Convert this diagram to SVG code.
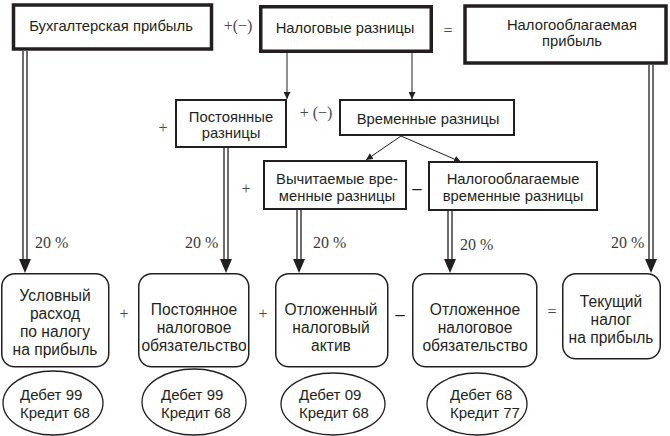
<svg xmlns="http://www.w3.org/2000/svg" width="670" height="436" viewBox="0 0 670 436">
<defs>
<style>
.bg{fill:#fff}
.thick{fill:#fff;stroke:#231f20;stroke-width:3.5}
.mid{fill:#fff;stroke:#231f20;stroke-width:2}
.rnd{fill:#fff;stroke:#231f20;stroke-width:1.5}
.ell{fill:#fff;stroke:#231f20;stroke-width:1.3}
.t{font-family:"Liberation Sans",Arial,sans-serif;font-size:14.8px;fill:#231f20;text-anchor:middle}
.b{font-family:"Liberation Sans",Arial,sans-serif;font-size:15.6px;fill:#231f20;text-anchor:middle}
.e{font-family:"Liberation Sans",Arial,sans-serif;font-size:15px;fill:#231f20}
.s{font-family:"Liberation Serif","Times New Roman",serif;font-size:16px;fill:#3a3a3a}
.sg{font-family:"Liberation Serif","Times New Roman",serif;font-size:16px;fill:#4a4a4a;text-anchor:middle}
.dl{stroke:#231f20;stroke-width:1.3;fill:none}
.sl{stroke:#231f20;stroke-width:1;fill:none}
.hd{fill:#231f20}
</style>
<marker id="ah" viewBox="0 0 10 10" refX="10" refY="5" markerWidth="7" markerHeight="7" markerUnits="userSpaceOnUse" orient="auto">
<path d="M0,0 L10,5 L0,10 z" fill="#231f20"/>
</marker>
</defs>
<rect class="bg" x="0" y="0" width="670" height="436"/>

<g id="connectors">
<path class="dl" d="M23,51 V262 M27,51 V262"/>
<polygon class="hd" points="19,259 31,259 25,273"/>
<path class="dl" d="M224,148 V262 M228,148 V262"/>
<polygon class="hd" points="220,259 232,259 226,273"/>
<path class="dl" d="M297,210 V262 M301,210 V262"/>
<polygon class="hd" points="293,259 305,259 299,273"/>
<path class="dl" d="M448,211 V262 M452,211 V262"/>
<polygon class="hd" points="444,259 456,259 450,273"/>
<path class="dl" d="M649,65 V262 M653,65 V262"/>
<polygon class="hd" points="645,259 657,259 651,273"/>
<line class="sl" x1="287" y1="53" x2="287" y2="99" marker-end="url(#ah)"/>
<line class="sl" x1="412" y1="53" x2="412" y2="99" marker-end="url(#ah)"/>
<line class="sl" x1="401" y1="136" x2="366" y2="160" marker-end="url(#ah)"/>
<line class="sl" x1="401" y1="136" x2="461" y2="162" marker-end="url(#ah)"/>
</g>

<g id="n-buh">
<rect class="thick" x="13.5" y="5" width="198" height="44"/>
<text class="t" x="111" y="31">Бухгалтерская прибыль</text>
</g>
<g id="n-nalraz">
<rect class="thick" x="260.75" y="6.75" width="170.5" height="44.5"/>
<text class="t" x="345" y="33">Налоговые разницы</text>
</g>
<g id="n-nalpr">
<rect class="thick" x="465" y="6" width="201" height="57"/>
<text class="t" x="572" y="30">Налогооблагаемая</text>
<text class="t" x="572" y="46">прибыль</text>
</g>
<g id="n-post">
<rect class="mid" x="176" y="100" width="110" height="47"/>
<text class="t" x="231" y="122">Постоянные</text>
<text class="t" x="231" y="138">разницы</text>
</g>
<g id="n-vrem">
<rect class="mid" x="340" y="100" width="174" height="35"/>
<text class="t" x="428" y="124">Временные разницы</text>
</g>
<g id="n-vych">
<rect class="mid" x="264" y="161" width="142" height="48"/>
<text class="t" x="337" y="184">Вычитаемые вре-</text>
<text class="t" x="337" y="201">менные разницы</text>
</g>
<g id="n-nalvr">
<rect class="mid" x="429" y="162" width="168" height="48"/>
<text class="t" x="513" y="184">Налогооблагаемые</text>
<text class="t" x="513" y="201">временные разницы</text>
</g>

<g id="n-usl">
<rect class="rnd" x="1.75" y="273.75" width="107" height="93" rx="13"/>
<text class="b" x="55" y="301">Условный</text>
<text class="b" x="55" y="319">расход</text>
<text class="b" x="55" y="337">по налогу</text>
<text class="b" x="55" y="355">на прибыль</text>
</g>
<g id="n-pno">
<rect class="rnd" x="138.75" y="273.75" width="110" height="93" rx="13"/>
<text class="b" x="194" y="315">Постоянное</text>
<text class="b" x="194" y="333">налоговое</text>
<text class="b" x="194" y="351">обязательство</text>
</g>
<g id="n-ona">
<rect class="rnd" x="275.75" y="273.75" width="112" height="93" rx="13"/>
<text class="b" x="331" y="315">Отложенный</text>
<text class="b" x="331" y="333">налоговый</text>
<text class="b" x="331" y="351">актив</text>
</g>
<g id="n-ono">
<rect class="rnd" x="412.75" y="273.75" width="124" height="93" rx="13"/>
<text class="b" x="475" y="315">Отложенное</text>
<text class="b" x="475" y="333">налоговое</text>
<text class="b" x="475" y="351">обязательство</text>
</g>
<g id="n-tek">
<rect class="rnd" x="562.75" y="273.75" width="97.5" height="85" rx="13"/>
<text class="b" x="611" y="307">Текущий</text>
<text class="b" x="611" y="325">налог</text>
<text class="b" x="611" y="343">на прибыль</text>
</g>

<g id="e1">
<ellipse class="ell" cx="53" cy="403" rx="50" ry="32"/>
<text class="e" x="20" y="400">Дебет 99</text>
<text class="e" x="20" y="418">Кредит 68</text>
</g>
<g id="e2">
<ellipse class="ell" cx="194" cy="402" rx="52" ry="33"/>
<text class="e" x="161" y="400">Дебет 99</text>
<text class="e" x="161" y="418">Кредит 68</text>
</g>
<g id="e3">
<ellipse class="ell" cx="333" cy="404" rx="52" ry="31"/>
<text class="e" x="299" y="400">Дебет 09</text>
<text class="e" x="299" y="418">Кредит 68</text>
</g>
<g id="e4">
<ellipse class="ell" cx="477" cy="404" rx="50" ry="31"/>
<text class="e" x="450" y="400">Дебет 68</text>
<text class="e" x="450" y="418">Кредит 77</text>
</g>

<g id="signs">
<text class="sg" x="238" y="31">+(−)</text>
<text class="sg" x="448" y="36">=</text>
<text class="sg" x="316" y="118">+ (−)</text>
<text class="sg" x="163" y="133">+</text>
<text class="sg" x="246" y="194">+</text>
<text class="t" x="417" y="194" style="font-size:17px">–</text>
<text class="sg" x="124" y="319">+</text>
<text class="sg" x="263" y="319">+</text>
<text class="t" x="400" y="320" style="font-size:17px">–</text>
<text class="sg" x="552" y="317">=</text>
</g>

<g id="pct">
<text class="s" x="35" y="248">20 %</text>
<text class="s" x="185" y="248">20 %</text>
<text class="s" x="313" y="248">20 %</text>
<text class="s" x="460" y="250">20 %</text>
<text class="s" x="611" y="248">20 %</text>
</g>
</svg>
